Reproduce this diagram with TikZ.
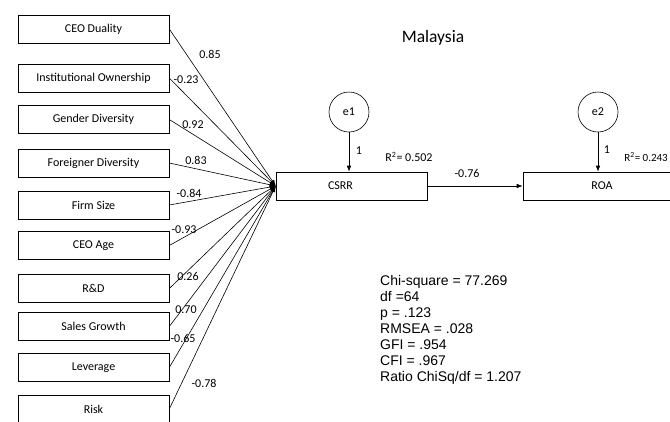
\documentclass[tikz,border=0pt]{standalone}
\usepackage{fontspec}
\setmainfont{Carlito}
\newfontfamily\statfont{Liberation Sans}
\usetikzlibrary{positioning, arrows.meta}

\begin{document}
\begin{tikzpicture}[x=1pt, y=-1pt, font=\fontsize{12}{14}\selectfont,
    predbox/.style={draw, line width=0.6pt, minimum width=151pt, minimum height=28pt, inner sep=0pt},
    errcirc/.style={draw, circle, line width=0.6pt, minimum size=40pt, inner sep=0pt},
    pathline/.style={line width=0.6pt, -{Latex[length=6pt, width=4.5pt]}}]
      \useasboundingbox (0,0) rectangle (670,421);
      \clip (0,0) rectangle (670,421);

      % Title
      \node (title) at (433,38) {\fontsize{17.5}{20}\selectfont Malaysia};

      % Predictors
      \node[predbox] (cdual) at (93.5,29) {CEO Duality};
      \node[predbox] (inst) at (93.5,78) {Institutional Ownership};
      \node[predbox] (gend) at (93.5,119.5) {Gender Diversity};
      \node[predbox] (forn) at (93.5,163) {Foreigner Diversity};
      \node[predbox] (fsize) at (93.5,205) {Firm Size};
      \node[predbox] (cage) at (93.5,245.5) {CEO Age};
      \node[predbox] (rnd) at (93.5,288.5) {R\&D};
      \node[predbox] (sgrow) at (93.5,326.5) {Sales Growth};
      \node[predbox] (lev) at (93.5,367.5) {Leverage};
      \node[predbox] (risk) at (93.5,409) {Risk};

      % Mediator and outcome
      \node[predbox] (csrr) at (351.5,186) {\hspace*{-22pt}CSRR};
      \node[predbox, minimum width=158pt] (roa) at (602,186) {ROA};

      % Error terms
      \node[errcirc] (e1) at (349,112) {e1};
      \node[errcirc] (e2) at (598,112) {e2};

      % Paths into CSRR
      \draw[pathline] (cdual.east) -- (csrr.west);
      \draw[pathline] (inst.east) -- (csrr.west);
      \draw[pathline] (gend.east) -- (csrr.west);
      \draw[pathline] (forn.east) -- (csrr.west);
      \draw[pathline] (fsize.east) -- (csrr.west);
      \draw[pathline] (cage.east) -- (csrr.west);
      \draw[pathline] (rnd.east) -- (csrr.west);
      \draw[pathline] (sgrow.east) -- (csrr.west);
      \draw[pathline] (lev.east) -- (csrr.west);
      \draw[pathline] (risk.east) -- (csrr.west);

      % Coefficients
      \node (k1) at (210,54) {0.85};
      \node (k2) at (186,80) {-0.23};
      \node (k3) at (193,125) {0.92};
      \node (k4) at (196,160) {0.83};
      \node (k5) at (189,193) {-0.84};
      \node (k6) at (184,230) {-0.93};
      \node (k7) at (188,276) {0.26};
      \node (k8) at (186,310) {0.70};
      \node (k9) at (183,338) {-0.65};
      \node (k10) at (204,383) {-0.78};

      % CSRR to ROA and error arrows
      \draw[pathline] (csrr.east) -- (roa.west);
      \node (k11) at (467,173) {-0.76};
      \draw[pathline] (e1.south) -- (e1.south |- csrr.north);
      \draw[pathline] (e2.south) -- (e2.south |- roa.north);
      \node (w1) at (359,151) {1};
      \node (w2) at (607,150) {1};
      \node (r1) at (409,157) {R\textsuperscript{2}= 0.502};
      \node[anchor=east, inner sep=0pt, font=\fontsize{11}{13}\selectfont] (r2) at (668,157) {R\textsuperscript{2}= 0.243};

      % Fit indices
      \node[anchor=north west, inner sep=0pt, align=left, font=\statfont\fontsize{14}{16}\selectfont] (fit) at (380,275)
        {Chi-square = 77.269\\ df =64\\ p = .123\\ RMSEA = .028\\ GFI = .954\\ CFI = .967\\ Ratio ChiSq/df = 1.207};
    \end{tikzpicture}
\end{document}
